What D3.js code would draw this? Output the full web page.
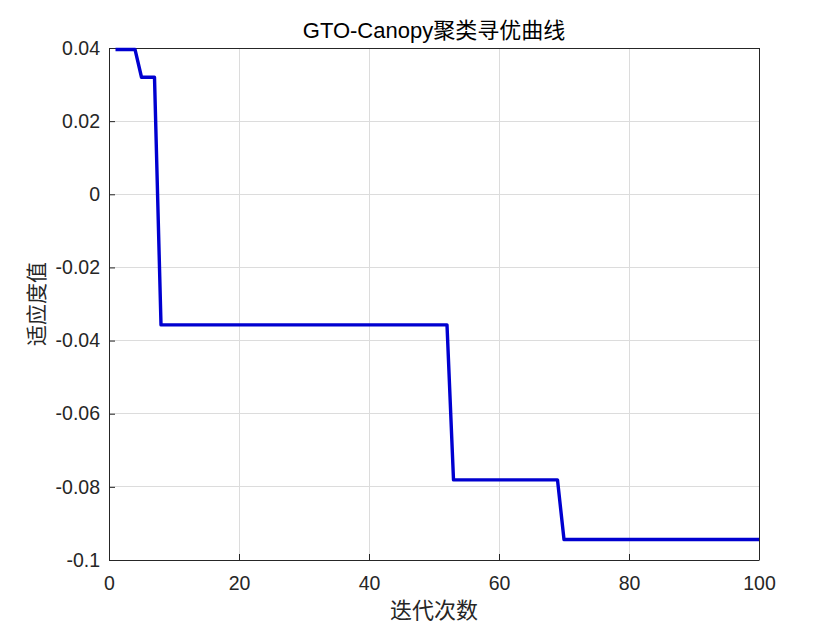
<!DOCTYPE html>
<html><head><meta charset="utf-8">
<script src="https://cdn.jsdelivr.net/npm/d3@7"></script>
<style>body{margin:0;background:#fff}svg{display:block}</style>
</head><body><svg id="c" width="840" height="630"></svg>
<script>
const title = "GTO-Canopy聚类寻优曲线";
const xLabel = "迭代次数";
const yLabel = "适应度值";
const xTicks = [0, 20, 40, 60, 80, 100];
const yTicks = [-0.1, -0.08, -0.06, -0.04, -0.02, 0, 0.02, 0.04];
const yTickLabels = ["-0.1", "-0.08", "-0.06", "-0.04", "-0.02", "0", "0.02", "0.04"];
// step segments: [first iteration, last iteration, fitness]
const stepStart = [1, 5, 8, 53, 70];
const stepEnd = [4, 7, 52, 69, 100];
const stepValue = [0.0396, 0.0320, -0.0357, -0.0781, -0.0944];

const iterations = [], fitness = [];
stepStart.forEach((s, i) => { for (let k = s; k <= stepEnd[i]; k++) { iterations.push(k); fitness.push(stepValue[i]); } });

const m = {l: 109, r: 759, t: 48, b: 560};
const svg = d3.select("#c");
const x = d3.scaleLinear().domain([0, 100]).range([m.l, m.r]);
const y = d3.scaleLinear().domain([-0.1, 0.04]).range([m.b, m.t]);
const font = "Arial, 'Liberation Sans', 'Noto Sans CJK SC', sans-serif";

svg.append("rect").attr("x", m.l).attr("y", m.t).attr("width", m.r - m.l).attr("height", m.b - m.t).attr("fill", "#fff");
// grid
svg.append("g").selectAll("line").data(xTicks).join("line")
  .attr("x1", d => x(d)).attr("x2", d => x(d)).attr("y1", m.t).attr("y2", m.b)
  .attr("stroke", "#dcdcdc").attr("stroke-width", 1).attr("shape-rendering", "crispEdges");
svg.append("g").selectAll("line").data(yTicks).join("line")
  .attr("y1", d => y(d)).attr("y2", d => y(d)).attr("x1", m.l).attr("x2", m.r)
  .attr("stroke", "#dcdcdc").attr("stroke-width", 1).attr("shape-rendering", "crispEdges");

// axes
const xAxis = d3.axisBottom(x).tickValues(xTicks).tickSizeInner(-6).tickSizeOuter(0).tickPadding(16);
const gx = svg.append("g").attr("transform", `translate(0,${m.b})`).call(xAxis);
const yAxis = d3.axisLeft(y).tickValues(yTicks).tickFormat((d, i) => yTickLabels[i]).tickSizeInner(-6).tickSizeOuter(0).tickPadding(9);
const gy = svg.append("g").attr("transform", `translate(${m.l},0)`).call(yAxis);
[gx, gy].forEach(g => {
  g.selectAll("text").attr("font-family", font).attr("font-size", 19.5).attr("fill", "#262626");
  g.selectAll("line").attr("stroke", "#262626");
  g.select(".domain").attr("stroke", "#262626");
});
// top & right box lines
svg.append("line").attr("x1", m.l).attr("x2", m.r).attr("y1", m.t).attr("y2", m.t).attr("stroke", "#262626").attr("shape-rendering", "crispEdges");
svg.append("line").attr("x1", m.r).attr("x2", m.r).attr("y1", m.t).attr("y2", m.b).attr("stroke", "#262626").attr("shape-rendering", "crispEdges");

// line
const line = d3.line().x((d, i) => x(iterations[i])).y(d => y(d));
svg.append("path").datum(fitness).attr("d", line).attr("fill", "none")
  .attr("stroke", "#0000d0").attr("stroke-width", 3.4).attr("stroke-linejoin", "round");

// title & labels
svg.append("text").attr("x", (m.l + m.r) / 2).attr("y", 38).attr("text-anchor", "middle")
  .attr("font-family", font).attr("font-size", 22).attr("fill", "#000").text(title);
svg.append("text").attr("x", (m.l + m.r) / 2).attr("y", 618).attr("text-anchor", "middle")
  .attr("font-family", "'Noto Sans CJK SC', sans-serif").attr("font-size", 22).attr("fill", "#262626").text(xLabel);
svg.append("text").attr("transform", `translate(44,${(m.t + m.b) / 2}) rotate(-90)`).attr("text-anchor", "middle")
  .attr("font-family", "'Noto Sans CJK SC', sans-serif").attr("font-size", 21).attr("fill", "#262626").text(yLabel);
</script></body></html>
